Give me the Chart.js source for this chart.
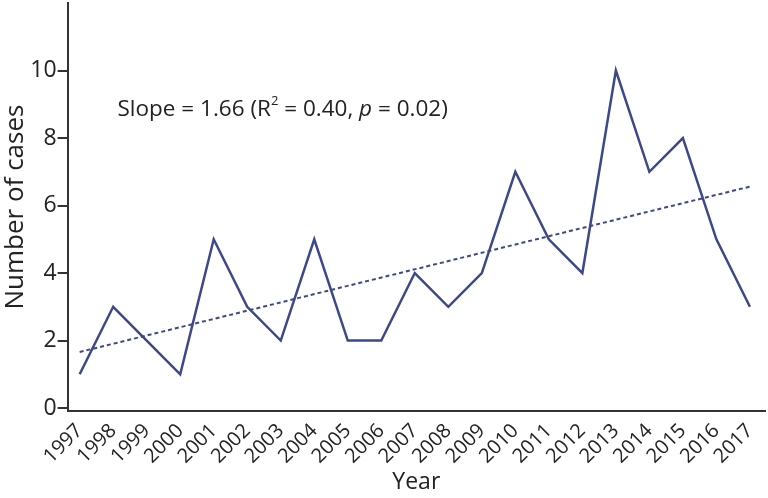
<!DOCTYPE html>
<html>
<head>
<meta charset="utf-8">
<script src="https://cdn.jsdelivr.net/npm/chart.js@4"></script>
<style>
  html, body { margin: 0; padding: 0; background: #fff; }
  #wrap { width: 768px; height: 498px; }
</style>
</head>
<body>
<div id="wrap"><canvas id="cases-chart"></canvas></div>
<script>
var years = [1997, 1998, 1999, 2000, 2001, 2002, 2003, 2004, 2005, 2006, 2007, 2008, 2009, 2010, 2011, 2012, 2013, 2014, 2015, 2016, 2017];
var cases = [1, 3, 2, 1, 5, 3, 2, 5, 2, 2, 4, 3, 4, 7, 5, 4, 10, 7, 8, 5, 3];
var trendYears = [1997, 2017];
var trendValues = [1.66, 6.56];
var yTicks = [0, 2, 4, 6, 8, 10];

var lineColor = '#3d4889';
var textColor = '#222';

Chart.defaults.font.family = "'Open Sans', 'Noto Sans', sans-serif";
Chart.defaults.color = textColor;

var casePoints = years.map(function (y, i) { return { x: y, y: cases[i] }; });
var trendPoints = trendYears.map(function (y, i) { return { x: y, y: trendValues[i] }; });

// slope annotation, drawn as text in data coordinates
var slopeLabel = {
  id: 'slopeLabel',
  afterDatasetsDraw: function (chart) {
    var ctx = chart.ctx;
    var x = chart.scales.x.getPixelForValue(1998.13);
    var y = chart.scales.y.getPixelForValue(8.85);
    var parts = [
      ['Slope = 1.66 (R', 'normal', 22.5, 0],
      ['2', 'normal', 13, -8],
      [' = 0.40, ', 'normal', 22.5, 0],
      ['p', 'italic', 22.5, 0],
      [' = 0.02)', 'normal', 22.5, 0]
    ];
    ctx.save();
    ctx.fillStyle = textColor;
    ctx.textBaseline = 'middle';
    ctx.textAlign = 'left';
    parts.forEach(function (p) {
      ctx.font = p[1] + ' ' + p[2] + "px 'Open Sans', sans-serif";
      ctx.fillText(p[0], x, y + p[3]);
      x += ctx.measureText(p[0]).width;
    });
    ctx.restore();
  }
};

var chart = new Chart(document.getElementById('cases-chart'), {
  type: 'line',
  data: {
    datasets: [{
      label: 'Cases',
      data: casePoints,
      borderColor: lineColor,
      borderWidth: 2.5,
      pointRadius: 0,
      tension: 0
    }, {
      label: 'Trend',
      data: trendPoints,
      borderColor: lineColor,
      borderWidth: 2,
      borderDash: [4, 3],
      pointRadius: 0
    }]
  },
  options: {
    responsive: true,
    maintainAspectRatio: false,
    animation: false,
    layout: { padding: { top: 3, right: 3, left: 2, bottom: 2 } },
    plugins: {
      legend: { display: false },
      tooltip: { enabled: false }
    },
    scales: {
      x: {
        type: 'linear',
        min: 1996.64,
        max: 2017.45,
        afterBuildTicks: function (axis) {
          axis.ticks = years.map(function (v) { return { value: v }; });
        },
        ticks: {
          minRotation: 45,
          maxRotation: 45,
          autoSkip: false,
          padding: 0,
          color: textColor,
          font: { size: 20 },
          callback: function (v) { return String(v); }
        },
        grid: { display: false },
        border: { display: true, color: '#333', width: 2 },
        title: {
          display: true,
          text: 'Year',
          color: textColor,
          font: { size: 23 },
          padding: { top: 0, bottom: 0 }
        }
      },
      y: {
        min: -0.09,
        max: 12,
        afterBuildTicks: function (axis) {
          axis.ticks = yTicks.map(function (v) { return { value: v }; });
        },
        // no room needed above the top tick label, the axis runs to the top
        afterFit: function (axis) {
          axis.paddingTop = 0;
        },
        ticks: {
          color: textColor,
          font: { size: 23 },
          padding: 1
        },
        grid: {
          drawOnChartArea: false,
          drawTicks: true,
          tickLength: 10,
          tickColor: '#333',
          lineWidth: 2
        },
        border: { display: true, color: '#333', width: 2 },
        title: {
          display: true,
          text: 'Number of cases',
          color: textColor,
          font: { size: 26, lineHeight: 1.05 },
          padding: { top: 0, bottom: 0 }
        }
      }
    }
  },
  plugins: [slopeLabel]
});
</script>
</body>
</html>
